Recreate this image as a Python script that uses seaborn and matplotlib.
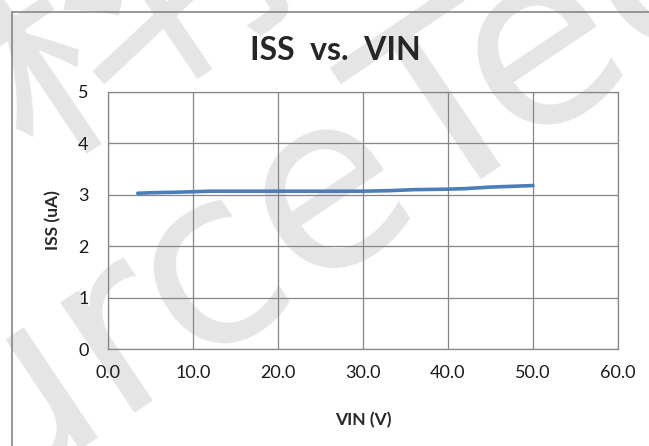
import matplotlib
matplotlib.use('Agg')
import matplotlib.pyplot as plt
import seaborn as sns
import pandas as pd
from matplotlib.patches import Rectangle

# Data
vin = [3.5, 5.0, 8.0, 10.0, 12.0, 15.0, 20.0, 25.0, 30.0, 33.0, 36.0, 40.0, 42.0, 45.0, 50.0]
iss = [3.03, 3.04, 3.05, 3.06, 3.07, 3.07, 3.07, 3.07, 3.07, 3.08, 3.10, 3.11, 3.12, 3.15, 3.18]
x_ticks = [0, 10, 20, 30, 40, 50, 60]
y_ticks = [0, 1, 2, 3, 4, 5]

df = pd.DataFrame({'VIN': vin, 'ISS': iss})

sns.set_style('white')
plt.rcParams['font.family'] = ['Lato', 'DejaVu Sans']

W, H = 649, 446
fig = plt.figure(figsize=(W / 100, H / 100), dpi=100)

# watermark (light grey, rotated, runs off the edges like the original),
# drawn beneath the axes so labels stay on top
wm = dict(fontsize=175, color='#e5e5e5', rotation=34, rotation_mode='anchor',
          zorder=-1)
fig.text(-265 / W, 1 - 672 / H, 'SourceTech', ha='left', va='baseline',
         family=['DejaVu Sans'], **wm)
fig.text(195 / W, 1 + 30 / H, '科技', ha='center', va='center',
         family=['Noto Sans CJK SC'], **wm)

# outer chart border
fig.patches.append(Rectangle((12 / W, -0.1), 1.2, 1 - 12 / H + 0.1,
                             transform=fig.transFigure, fill=False,
                             edgecolor='#868686', lw=1.2, zorder=1))

ax = fig.add_axes([108 / W, 1 - 349 / H, (618 - 108) / W, (349 - 92) / H])
ax.patch.set_alpha(0)

sns.lineplot(data=df, x='VIN', y='ISS', ax=ax, color='#4A7EBB', lw=2.6,
             solid_capstyle='round', zorder=3)

ax.set_xlim(0, 60)
ax.set_ylim(0, 5)
ax.set_xticks(x_ticks)
ax.set_xticklabels([f'{t:.1f}' for t in x_ticks])
ax.set_yticks(y_ticks)
ax.grid(True, color='#868686', lw=0.9)
for s in ax.spines.values():
    s.set_color('#868686')
    s.set_linewidth(0.9)
ax.tick_params(length=0, labelsize=13, colors='#1a1a1a')
ax.tick_params(axis='x', pad=11.5)
ax.tick_params(axis='y', pad=14)

ax.set_xlabel('VIN (V)', fontsize=12.5, fontweight='bold', labelpad=22)
ax.set_ylabel('ISS (uA)', fontsize=12.5, fontweight='bold', labelpad=12)

fig.text(335 / W, 1 - 50 / H, 'ISS  vs.  VIN', fontsize=23, fontweight='bold',
         ha='center', va='center')

fig.savefig('out.png', dpi=100)
